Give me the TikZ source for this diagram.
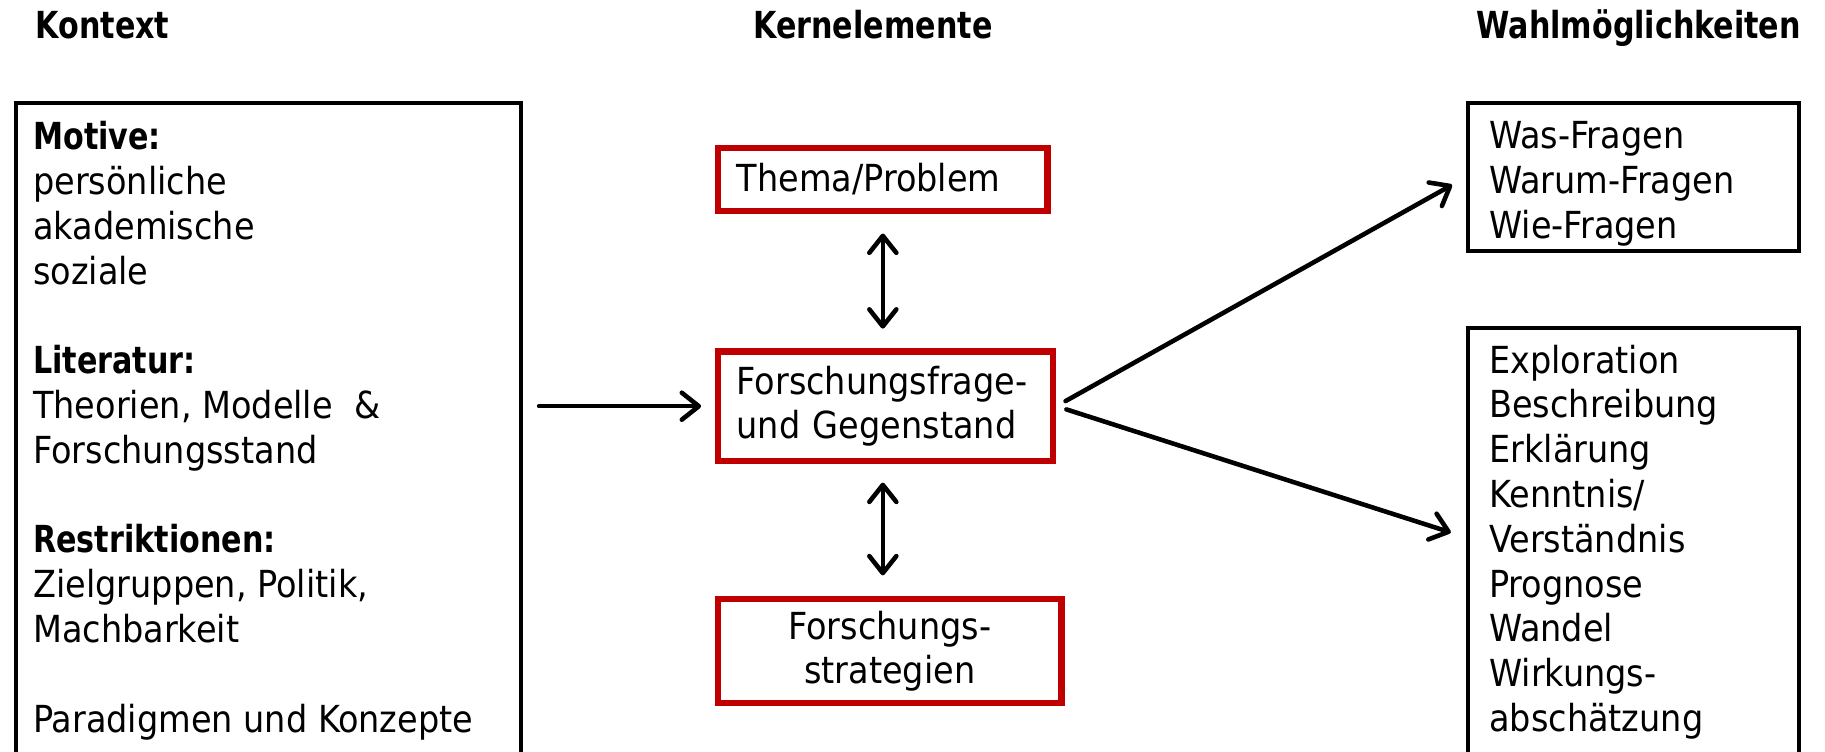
\documentclass[tikz,border=0pt]{standalone}
\usepackage{fontspec}
\setmainfont{DejaVu Sans Condensed}[BoldFeatures={FakeStretch=0.9}]
\usetikzlibrary{arrows.meta,fit}
\newlength{\pxu}
\setlength{\pxu}{0.116390mm}
\definecolor{boxred}{HTML}{C00000}
\begin{document}
\begin{tikzpicture}[x=\pxu,y=-\pxu,
  every node/.style={font=\fontsize{10.6}{12.75}\selectfont},
  head/.style={font=\fontsize{10.6}{12.75}\selectfont\bfseries, inner sep=0},
  txt/.style={inner sep=0, align=left, anchor=north west},
  blackbox/.style={draw=black, line width=1.1pt, inner sep=0},
  redbox/.style={draw=boxred, line width=1.75pt, inner sep=0},
  tip/.tip={Straight Barb[length=1.7mm,width=2.7mm,line cap=round,line join=round]},
  arr/.style={line width=1.3pt, line cap=round, -tip},
  darr/.style={line width=1.3pt, line cap=round, tip-tip}]
\useasboundingbox (0,0) rectangle (1568,646);

% column headings
\node[head, anchor=base west] (hctx) at (30,33) {Kontext};
\node[head, anchor=base] (hkern) at (750,33) {Kernelemente};
\node[head, anchor=base west] (hwahl) at (1268,33) {Wahlmöglichkeiten};

% context box (runs past the lower edge)
\node[blackbox, fit={(13.5,88.5) (447.5,665)}] (ctx) {};
\node[txt] (ctxtext) at (28,101) {\strut\textbf{Motive:}\\persönliche\\akademische\\soziale\\[12.75pt]
  \textbf{Literatur:}\\Theorien, Modelle~~\&\\Forschungsstand\\[12.75pt]
  \textbf{Restriktionen:}\\Zielgruppen, Politik,\\Machbarkeit\\[12.75pt]
  Paradigmen und Konzepte};

% core elements
\node[redbox, minimum width=283\pxu, minimum height=54\pxu, text width=251\pxu, align=left] (tp) at (758.5,154) {Thema/Problem};
\node[redbox, minimum width=288\pxu, minimum height=94\pxu, text width=256\pxu, align=left] (ff) at (761,349) {Forschungsfrage-\\und Gegenstand};
\node[redbox, minimum width=295\pxu, minimum height=89\pxu, text width=263\pxu, align=center] (fs) at (764.5,559.5) {Forschungs-\\strategien};

% options
\node[blackbox, fit={(1261.5,88.5) (1545.5,215.5)}] (wq) {};
\node[txt] (wqtext) at (1279,100) {\strut Was-Fragen\\Warum-Fragen\\Wie-Fragen};
\node[blackbox, fit={(1261.5,281.5) (1545.5,665)}] (zl) {};
\node[txt] (zltext) at (1279,293) {\strut Exploration\\Beschreibung\\Erklärung\\Kenntnis/\\Verständnis\\Prognose\\Wandel\\Wirkungs-\\abschätzung};

% connectors
\draw[arr, shorten <=14\pxu, shorten >=12\pxu] (ctx.east |- ff.west) -- (ff.west);
\draw[darr, shorten <=17\pxu, shorten >=17\pxu] (tp.south) -- (tp.south |- ff.north);
\draw[darr, shorten <=16\pxu, shorten >=18\pxu] (tp.south |- ff.south) -- (tp.south |- fs.north);
\draw[arr, shorten <=9\pxu, shorten >=14\pxu] (ff.east) -- (wq.west);
\draw[arr, shorten <=9\pxu, shorten >=14\pxu] (ff.east) -- ([yshift=11.5\pxu]zl.west);
\end{tikzpicture}
\end{document}
